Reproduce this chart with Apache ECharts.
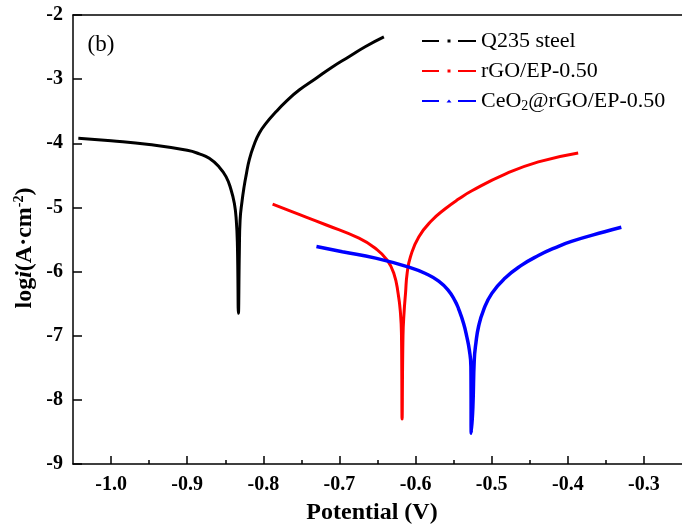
<!DOCTYPE html>
<html>
<head>
<meta charset="utf-8">
<script src="https://cdn.jsdelivr.net/npm/echarts@6/dist/echarts.min.js"></script>
<style>
  html, body { margin: 0; padding: 0; background: #fff; }
  #chart { width: 682px; height: 532px; }
</style>
</head>
<body>
<div id="chart"></div>
<script>
// Tafel polarization curves: log current density vs. potential
const seriesNames = ['Q235 steel', 'rGO/EP-0.50', 'CeO2@rGO/EP-0.50'];
const seriesColors = ['#000000', '#ff0000', '#0000ff'];

const q235Potential = [-1.043, -1.0, -0.95, -0.9, -0.884, -0.871, -0.858, -0.849, -0.8425, -0.838, -0.8355, -0.834, -0.8327, -0.8315, -0.8305, -0.8279, -0.825, -0.8226, -0.8183, -0.8117, -0.8052, -0.7965, -0.7834, -0.7703, -0.7529, -0.731, -0.7093, -0.6875, -0.6656, -0.6416];
const q235LogI = [-3.92, -3.96, -4.02, -4.11, -4.165, -4.235, -4.37, -4.52, -4.72, -4.94, -5.20, -5.60, -6.65, -5.70, -5.20, -4.90, -4.66, -4.50, -4.25, -4.01, -3.84, -3.69, -3.51, -3.35, -3.17, -2.99, -2.81, -2.65, -2.49, -2.34];

const rgoPotential = [-0.7878, -0.7616, -0.718, -0.6743, -0.6525, -0.6373, -0.6285, -0.6229, -0.6198, -0.6185, -0.6177, -0.6165, -0.6150, -0.6132, -0.6111, -0.6067, -0.5958, -0.5784, -0.561, -0.5435, -0.526, -0.4823, -0.4387, -0.3864];
const rgoLogI = [-4.95, -5.07, -5.27, -5.48, -5.64, -5.82, -6.03, -6.34, -6.65, -7.0, -8.30, -7.0, -6.62, -6.34, -6.03, -5.77, -5.46, -5.20, -5.02, -4.87, -4.74, -4.48, -4.29, -4.15];

const ceoPotential = [-0.7302, -0.6962, -0.6525, -0.6089, -0.587, -0.5696, -0.5565, -0.548, -0.5435, -0.5369, -0.5326, -0.5294, -0.5273, -0.5268, -0.5247, -0.5229, -0.5208, -0.5173, -0.5107, -0.4998, -0.4823, -0.4606, -0.4387, -0.4169, -0.3952, -0.3516, -0.3297];
const ceoLogI = [-5.61, -5.69, -5.79, -5.93, -6.03, -6.15, -6.30, -6.46, -6.58, -6.81, -7.02, -7.22, -7.48, -8.52, -8.11, -7.38, -7.12, -6.86, -6.60, -6.34, -6.10, -5.90, -5.75, -5.63, -5.53, -5.38, -5.31];

const xMajorTicks = [-1.0, -0.9, -0.8, -0.7, -0.6, -0.5, -0.4, -0.3];
const xMinorTicks = [-0.95, -0.85, -0.75, -0.65, -0.55, -0.45, -0.35];
const xRange = [-1.05, -0.25];
const yRange = [-9, -2];

const serif = 'Liberation Serif, Times New Roman, serif';

function pairs(xs, ys) {
  return xs.map((x, i) => [x, ys[i]]);
}

// legend glyphs: dash, marker, dash
const dashDot = 'path://M0,0.6h17v1.8h-17z M25.5,0h3v3h-3z M36,0.6h18v1.8h-18z';
const dashTri = 'path://M0,0.6h17v1.8h-17z M24.5,3l2.5,-3l2.5,3z M36,0.6h18v1.8h-18z';

const chart = echarts.init(document.getElementById('chart'));

const axisText = { fontFamily: serif, fontWeight: 'bold', fontSize: 20, color: '#000' };
const blackLine = { color: '#000', width: 1.5 };

chart.setOption({
  animation: false,
  backgroundColor: '#fff',
  grid: { left: 73, top: 15, width: 611, height: 449, show: false },
  xAxis: [
    {
      type: 'value', min: xRange[0], max: xRange[1], position: 'bottom',
      axisLine: { show: true, onZero: false, lineStyle: blackLine },
      axisTick: { show: true, inside: true, length: 8, customValues: xMajorTicks, lineStyle: blackLine },
      axisLabel: Object.assign({ margin: 11, customValues: xMajorTicks, formatter: v => v.toFixed(1) }, axisText),
      splitLine: { show: false }
    },
    {
      type: 'value', min: xRange[0], max: xRange[1], position: 'bottom',
      axisLine: { show: false, onZero: false },
      axisTick: { show: true, inside: true, length: 4, customValues: xMinorTicks, lineStyle: blackLine },
      axisLabel: { show: false },
      splitLine: { show: false }
    },
    {
      type: 'value', min: xRange[0], max: xRange[1], position: 'top',
      axisLine: { show: true, onZero: false, lineStyle: blackLine },
      axisTick: { show: false },
      axisLabel: { show: false },
      splitLine: { show: false }
    }
  ],
  yAxis: {
    type: 'value', min: yRange[0], max: yRange[1], interval: 1,
    axisLine: { show: true, onZero: false, lineStyle: blackLine },
    axisTick: { show: true, inside: true, length: 9, lineStyle: blackLine },
    axisLabel: Object.assign({ margin: 10 }, axisText),
    splitLine: { show: false }
  },
  legend: {
    orient: 'vertical', left: 422, top: 30, padding: 0,
    itemWidth: 54, itemHeight: 3, itemGap: 8,
    selectedMode: false,
    textStyle: {
      fontFamily: serif, fontSize: 22, color: '#000',
      rich: {
        a: { fontFamily: serif, fontSize: 22, color: '#000' },
        s: { fontFamily: serif, fontSize: 14, color: '#000', padding: [10, 0, 0, 0] }
      }
    },
    formatter: name => name === seriesNames[2] ? '{a|CeO}{s|2}{a|@rGO/EP-0.50}' : name,
    data: [
      { name: seriesNames[0], icon: dashDot },
      { name: seriesNames[1], icon: dashDot },
      { name: seriesNames[2], icon: dashTri }
    ]
  },
  graphic: [
    {
      type: 'text', x: 101, y: 45,
      style: { text: '(b)', font: '23px ' + serif, fill: '#000', align: 'center', verticalAlign: 'middle' }
    },
    {
      type: 'text', x: 372, y: 513,
      style: { text: 'Potential (V)', font: 'bold 24px ' + serif, fill: '#000', align: 'center', verticalAlign: 'middle' }
    },
    {
      type: 'text', x: 25, y: 248, rotation: Math.PI / 2,
      style: {
        text: '{b|log}{i|i}{b|(A·cm}{p|-2}{b|)}',
        align: 'center', verticalAlign: 'middle',
        rich: {
          b: { fontFamily: serif, fontWeight: 'bold', fontSize: 24, fill: '#000' },
          i: { fontFamily: serif, fontWeight: 'bold', fontStyle: 'italic', fontSize: 24, fill: '#000' },
          p: { fontFamily: serif, fontWeight: 'bold', fontSize: 14, fill: '#000', padding: [0, 0, 11, 0] }
        }
      }
    }
  ],
  series: [
    { name: seriesNames[0], data: pairs(q235Potential, q235LogI) },
    { name: seriesNames[1], data: pairs(rgoPotential, rgoLogI) },
    { name: seriesNames[2], data: pairs(ceoPotential, ceoLogI) }
  ].map((s, i) => ({
    type: 'line', name: s.name, data: s.data,
    xAxisIndex: 0, yAxisIndex: 0,
    showSymbol: false, smooth: 0.5,
    color: seriesColors[i],
    itemStyle: { color: seriesColors[i] },
    lineStyle: { color: seriesColors[i], width: i === 2 ? 3.5 : 3 }
  }))
});
</script>
</body>
</html>
